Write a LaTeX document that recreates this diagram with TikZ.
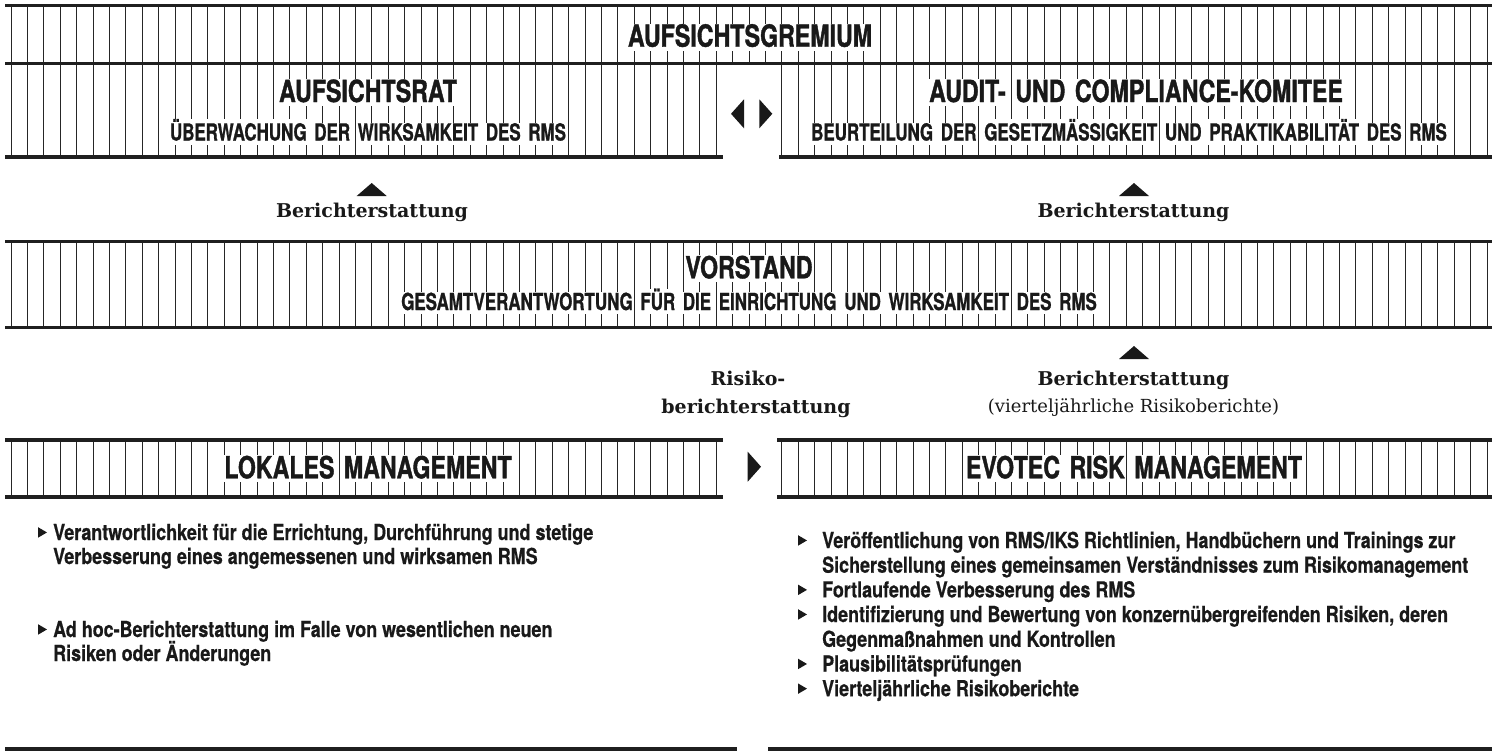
\documentclass[tikz,border=0pt]{standalone}
\usepackage{fontspec}
\newfontfamily\ttlfont[FakeStretch=0.76,FakeBold=1.2]{TeX Gyre Heros}
\newfontfamily\subfont[FakeStretch=0.72,FakeBold=0.9]{TeX Gyre Heros}
\newfontfamily\bulfont[FakeStretch=0.815,FakeBold=0.6]{TeX Gyre Heros}
\newfontfamily\serfont{DejaVu Serif}
\newlength\wbh \newlength\wbd
\newcommand\W[1]{{\setlength\fboxsep{0pt}\colorbox{white}{\rule[-\wbd]{0pt}{\wbh}\hspace{1.5pt}#1\hspace{1.5pt}}}}
\tikzset{
  hline/.style={line width=3.2pt, draw=black!88},
  vline/.style={line width=0.8pt, draw=black!85},
  tri/.style={fill=black!90, draw=none},
  ttl/.style={inner sep=0pt, anchor=base, text=black!90,
    font=\ttlfont\bfseries\fontsize{30.5}{30.5}\selectfont\setlength\wbh{27pt}\setlength\wbd{4pt}},
  sub/.style={inner sep=0pt, anchor=base, text=black!90,
    font=\subfont\bfseries\fontsize{23.5}{23.5}\selectfont\setlength\wbh{22pt}\setlength\wbd{4pt}},
  bul/.style={inner sep=0pt, anchor=base west, text=black!90,
    font=\bulfont\bfseries\fontsize{22}{22}\selectfont},
  ser/.style={inner sep=0pt, anchor=base, text=black!90,
    font=\serfont\bfseries\fontsize{19}{19}\selectfont},
  serreg/.style={inner sep=0pt, anchor=base, text=black!90,
    font=\serfont\fontsize{18}{18}\selectfont},
}
\begin{document}
\begin{tikzpicture}[x=1pt,y=-1pt]
\useasboundingbox (0,0) rectangle (1499,755);
% ---------- vertical rulings
\foreach \k in {0,...,90}{
  \draw[vline] ({10.9+16.4*\k},5.5) -- ({10.9+16.4*\k},63.5);
  \draw[vline] ({10.9+16.4*\k},241.7) -- ({10.9+16.4*\k},327.5);
}
\foreach \k in {0,...,43}{
  \draw[vline] ({10.9+16.4*\k},63.5) -- ({10.9+16.4*\k},157);
  \draw[vline] ({10.9+16.4*\k},440) -- ({10.9+16.4*\k},497);
}
\foreach \k in {47,...,90}{
  \draw[vline] ({10.9+16.4*\k},63.5) -- ({10.9+16.4*\k},157);
  \draw[vline] ({10.9+16.4*\k},440) -- ({10.9+16.4*\k},497);
}
% ---------- thick horizontal rules
\draw[hline] (5,5.5) -- (1492,5.5);
\draw[hline] (5,63.5) -- (1492,63.5);
\draw[hline] (5,157) -- (723,157);
\draw[hline] (779,157) -- (1492,157);
\draw[hline] (5,241.7) -- (1492,241.7);
\draw[hline] (5,327.5) -- (1492,327.5);
\draw[hline] (5,440) -- (723,440);
\draw[hline] (777,440) -- (1492,440);
\draw[hline] (5,497) -- (723,497);
\draw[hline] (777,497) -- (1492,497);
\draw[hline] (5,749) -- (737,749);
\draw[hline] (768,749) -- (1492,749);
% ---------- band titles
\node[ttl] (gremium) at (750,46.7) {\W{AUFSICHTSGREMIUM}};
\node[ttl] (rat) at (368,102) {\W{AUFSICHTSRAT}};
\node[sub] (ratsub) at (368,140.5) {\W{ÜBERWACHUNG} \W{DER} \W{WIRKSAMKEIT} \W{DES} \W{RMS}};
\node[ttl] (audit) at (1136,102) {\W{AUDIT-} \W{UND} \W{COMPLIANCE-KOMITEE}};
\node[sub] (auditsub) at (1129,140.5) {\W{BEURTEILUNG} \W{DER} \W{GESETZMÄSSIGKEIT} \W{UND} \W{PRAKTIKABILITÄT} \W{DES} \W{RMS}};
\node[ttl] (vorstand) at (749,278.3) {\W{VORSTAND}};
\node[sub] (vorsub) at (749,310) {\W{GESAMTVERANTWORTUNG} \W{FÜR} \W{DIE} \W{EINRICHTUNG} \W{UND} \W{WIRKSAMKEIT} \W{DES} \W{RMS}};
\node[ttl] (lokal) at (368,478.3) {\W{LOKALES} \W{MANAGEMENT}};
\node[ttl] (evotec) at (1134,478.3) {\W{EVOTEC} \W{RISK} \W{MANAGEMENT}};
% ---------- triangles
\fill[tri] (744,99.3) -- (744,128.3) -- (731,113.8) -- cycle;
\fill[tri] (759.3,99.3) -- (759.3,128.3) -- (772.3,113.8) -- cycle;
\fill[tri] (747.7,451.7) -- (747.7,481.7) -- (761,466.7) -- cycle;
\fill[tri] (356.7,196) -- (386.7,196) -- (371.7,183) -- cycle;
\fill[tri] (1119,196) -- (1149,196) -- (1134,183) -- cycle;
\fill[tri] (1119,359) -- (1149,359) -- (1134,346) -- cycle;
% ---------- reporting labels
\node[ser] (ber1) at (372,217) {Berichterstattung};
\node[ser] (ber2) at (1133.5,217) {Berichterstattung};
\node[ser, anchor=base, align=center] (risiko) at (756,413) {Risiko-\hspace*{16pt}\\[9pt]berichterstattung};
\node[ser] (ber3) at (1133.5,385) {Berichterstattung};
\node[serreg] (quart) at (1133.5,412) {(vierteljährliche Risikoberichte)};
% ---------- left bullets
\foreach \y in {540,637}{\fill[tri] (38,{\y-12.8}) -- (38,{\y-2.3}) -- (47,{\y-7.55}) -- cycle;}
\node[bul] (l1) at (53,540) {Verantwortlichkeit für die Errichtung, Durchführung und stetige};
\node[bul] (l2) at (53,564) {Verbesserung eines angemessenen und wirksamen RMS};
\node[bul] (l3) at (53,637) {Ad hoc-Berichterstattung im Falle von wesentlichen neuen};
\node[bul] (l4) at (53,661) {Risiken oder Änderungen};
% ---------- right bullets
\foreach \y in {548,597.4,622,671.5,696.2}{\fill[tri] (798,{\y-12.8}) -- (798,{\y-2.3}) -- (807,{\y-7.55}) -- cycle;}
\node[bul] (r1) at (822,548) {Veröffentlichung von RMS/IKS Richtlinien, Handbüchern und Trainings zur};
\node[bul] (r2) at (822,572.7) {Sicherstellung eines gemeinsamen Verständnisses zum Risikomanagement};
\node[bul] (r3) at (822,597.4) {Fortlaufende Verbesserung des RMS};
\node[bul] (r4) at (822,622) {Identifizierung und Bewertung von konzernübergreifenden Risiken, deren};
\node[bul] (r5) at (822,646.8) {Gegenmaßnahmen und Kontrollen};
\node[bul] (r6) at (822,671.5) {Plausibilitätsprüfungen};
\node[bul] (r7) at (822,696.2) {Vierteljährliche Risikoberichte};
\end{tikzpicture}
\end{document}
